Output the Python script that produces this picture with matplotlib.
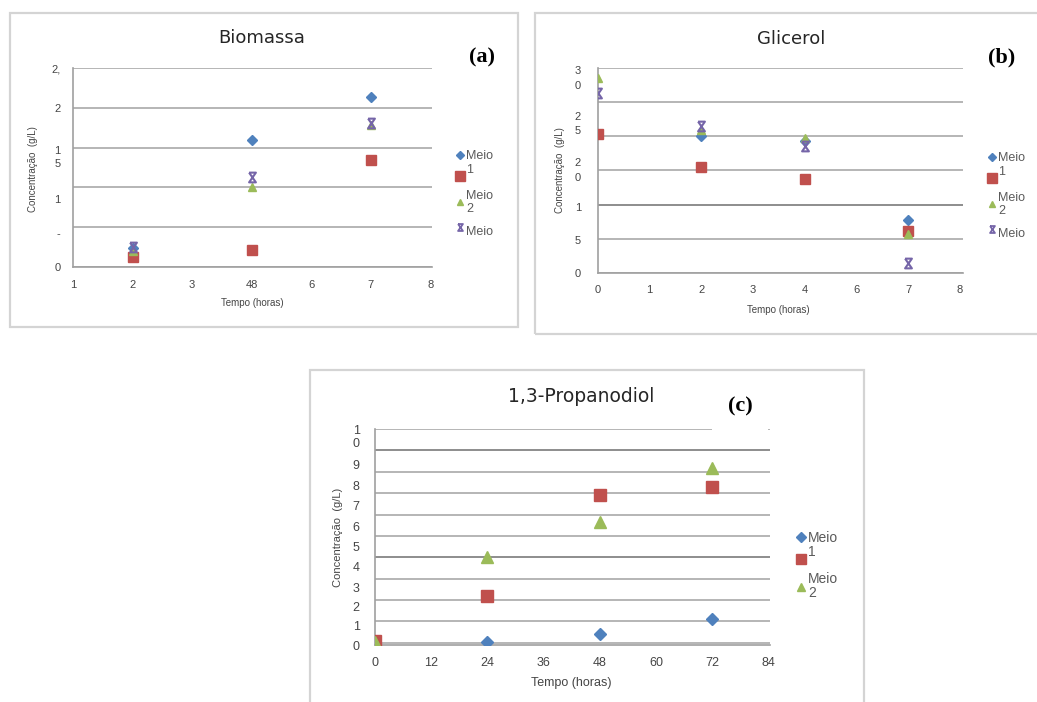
import matplotlib.pyplot as plt
from matplotlib.lines import Line2D
from matplotlib.patches import Rectangle
from matplotlib.path import Path

# (a) Biomassa - x positions index the (garbled) tick labels
bio_xlabels = ['1', '2', '3', '48', '6', '7', '8']
bio_x = [1, 3, 5]
bio_blue = [0.24, 1.60, 2.13]
bio_red = [0.13, 0.21, 1.34]
bio_green = [0.20, 1.01, 1.78]
bio_purple = [0.25, 1.13, 1.81]
bio_grid = [0, 0.5, 1, 1.5, 2, 2.5]
bio_ylab_pos = [0, 0.42, 0.85, 1.41, 2.0, 2.5]
bio_ylabels = ['0', '-', '1', '1\n5', '2', '2,']

# (b) Glicerol
gli_xlabels = ['0', '1', '2', '3', '4', '6', '7', '8']
gli_x = [0, 2, 4, 6]
gli_blue = [20.4, 20.1, 19.3, 7.8]
gli_red = [20.4, 15.5, 13.8, 6.1]
gli_green = [28.5, 21.0, 19.8, 5.7]
gli_purple = [26.3, 21.5, 18.6, 1.4]
gli_grid = [0, 5, 10, 15, 20, 25, 30]
gli_ylab_pos = [0, 4.9, 9.7, 15.5, 22.3, 29.0]
gli_ylabels = ['0', '5', '1', '2\n0', '2\n5', '3\n0']

# (c) 1,3-Propanodiol
pdo_x = [0, 24, 48, 72]
pdo_blue = [0.05, 0.05, 0.42, 1.13]
pdo_red = [0.08, 2.2, 6.9, 7.27]
pdo_green = [0.05, 4.0, 5.66, 8.18]
pdo_xticks = [0, 12, 24, 36, 48, 60, 72, 84]
pdo_grid = list(range(0, 11))
pdo_ylab_pos = [-0.1, 0.8, 1.7, 2.6, 3.55, 4.5, 5.45, 6.4, 7.35, 8.35, 9.7]
pdo_ylabels = ['0', '1', '2', '3', '4', '5', '6', '7', '8', '9', '1\n0']

legend_labels = ['Meio', '1\n', 'Meio\n2', '\nMeio']

BLUE, RED, GREEN, PURPLE = '#4f81bd', '#c0504d', '#9bbb59', '#7565a8'
GRID = '#a9a9a9'
TXT = '#454545'

W, H = 1037, 702
fig = plt.figure(figsize=(W / 100, H / 100), dpi=100)
plt.rcParams['font.family'] = 'Liberation Sans'

hourglass = Path([(-0.7, 1), (0.7, 1), (-0.7, -1), (0.7, -1), (-0.7, 1)],
                 [Path.MOVETO, Path.LINETO, Path.LINETO, Path.LINETO, Path.LINETO])


def px_rect(x0, y0, x1, y1):
    return [x0 / W, 1 - y1 / H, (x1 - x0) / W, (y1 - y0) / H]


def frame(x0, y0, x1, y1):
    fig.add_artist(Rectangle((x0 / W, 1 - y1 / H), (x1 - x0) / W, (y1 - y0) / H,
                             transform=fig.transFigure, fill=False,
                             edgecolor='#d4d4d4', linewidth=1.6))


def setup(ax, grid, lab_pos, labs, ypad, xpad, fs, lsp):
    ax.yaxis.remove_overlapping_locs = False
    ax.set_yticks(grid, labels=[''] * len(grid))
    ax.set_yticks(lab_pos, labels=labs, minor=True)
    ax.tick_params(which='both', length=0, colors=TXT, labelsize=fs)
    ax.tick_params(axis='y', which='minor', pad=ypad)
    ax.tick_params(axis='x', pad=xpad)
    for lbl in ax.get_yticklabels(minor=True):
        lbl.set_linespacing(lsp)
    ax.grid(axis='y', which='major', color=GRID, linewidth=1.2)
    ax.set_axisbelow(True)
    for s in ['top', 'right']:
        ax.spines[s].set_visible(False)
    for s in ['left', 'bottom']:
        ax.spines[s].set_color('#a0a0a0')
        ax.spines[s].set_linewidth(1.2)


def labels(ax, xl, yl, fs, yfs):
    ax.set_xlabel('Tempo (horas)', fontsize=fs, color=TXT, va='center')
    ax.xaxis.set_label_coords(*xl)
    ax.set_ylabel('Concentração  (g/L)', fontsize=yfs, color=TXT, va='center')
    ax.yaxis.set_label_coords(*yl)


def legend(ax, series, x, y, fs, spacing, lsp):
    handles = []
    for marker, color, ms in series:
        if marker is hourglass:
            handles.append(Line2D([], [], ls='none', marker=marker, markersize=ms,
                                  markerfacecolor='none', markeredgecolor=color,
                                  markeredgewidth=1.3))
        else:
            handles.append(Line2D([], [], ls='none', marker=marker, markersize=ms,
                                  color=color))
    leg = ax.legend(handles, legend_labels[:len(handles)], loc='upper left',
                    bbox_to_anchor=(x / W, 1 - y / H), bbox_transform=fig.transFigure,
                    frameon=False, fontsize=fs, handlelength=0.6, handletextpad=0.2,
                    labelspacing=spacing, borderpad=0, borderaxespad=0,
                    labelcolor='#5a5a5a')
    texts = leg.get_texts()
    for t in texts:
        t.set_linespacing(lsp)
    if len(texts) > 3:
        texts[3].set_linespacing(0.75)


def scatter(ax, x, ys, sizes):
    mk = ['D', 's', '^', hourglass]
    cols = [BLUE, RED, GREEN, PURPLE]
    for i, y in enumerate(ys):
        if mk[i] is hourglass:
            ax.plot(x, y, ls='none', marker=hourglass, markersize=sizes[i],
                    markerfacecolor='none', markeredgecolor=cols[i],
                    markeredgewidth=1.5, zorder=3)
        else:
            ax.plot(x, y, ls='none', marker=mk[i], markersize=sizes[i],
                    color=cols[i], zorder=3)


# frames of the three pasted charts
frame(10, 13, 518, 327)
frame(535, 13, 1045, 334)
frame(310, 370, 864, 712)

# ---- (a) Biomassa
ax1 = fig.add_axes(px_rect(73, 68, 432, 267))
scatter(ax1, bio_x, [bio_blue, bio_red, bio_green, bio_purple], [5.5, 7, 6, 7])
ax1.set_xlim(0, 6.03)
ax1.set_ylim(0, 2.5)
ax1.set_xticks(range(len(bio_xlabels)), labels=bio_xlabels)
setup(ax1, bio_grid, bio_ylab_pos, bio_ylabels, 9, 9, 8, 1.45)
labels(ax1, (0.5, -0.18), (-0.112, 0.49), 7, 7)
legend(ax1, [('D', BLUE, 4), ('s', RED, 7), ('^', GREEN, 5), (hourglass, PURPLE, 5)],
       456, 150, 9, 0.12, 1.1)
fig.text(262 / W, 1 - 38 / H, 'Biomassa', fontsize=13, color='#262626',
         family='DejaVu Sans', ha='center', va='center')
fig.text(482 / W, 1 - 57 / H, '(a)', fontsize=16, fontweight='bold',
         family='Liberation Serif', ha='center', va='center')

# ---- (b) Glicerol
ax2 = fig.add_axes(px_rect(597.7, 68, 963, 273))
scatter(ax2, gli_x, [gli_blue, gli_red, gli_green, gli_purple], [5.5, 7, 6, 7])
ax2.set_xlim(0, 7.06)
ax2.set_ylim(0, 30)
ax2.set_xticks(range(len(gli_xlabels)), labels=gli_xlabels)
setup(ax2, gli_grid, gli_ylab_pos, gli_ylabels, 12, 9, 8, 1.6)
ax2.get_ygridlines()[2].set_color('#7a7a7a')
labels(ax2, (0.494, -0.18), (-0.103, 0.5), 7, 7)
legend(ax2, [('D', BLUE, 4), ('s', RED, 7), ('^', GREEN, 5), (hourglass, PURPLE, 5)],
       988, 152, 9, 0.12, 1.1)
fig.text(791 / W, 1 - 39 / H, 'Glicerol', fontsize=13, color='#262626',
         family='DejaVu Sans', ha='center', va='center')
fig.text(1002 / W, 1 - 57 / H, '(b)', fontsize=16, fontweight='bold',
         family='Liberation Serif', ha='center', va='center')

# ---- (c) 1,3-Propanodiol
ax3 = fig.add_axes(px_rect(375, 429, 770, 645))
scatter(ax3, pdo_x, [pdo_blue, pdo_red, pdo_green], [6, 8, 8])
ax3.set_xlim(0, 84.3)
ax3.set_ylim(0, 10)
ax3.set_xticks(pdo_xticks)
setup(ax3, pdo_grid, pdo_ylab_pos, pdo_ylabels, 11, 9, 9, 1.15)
for i in (4, 9):
    ax3.get_ygridlines()[i].set_color('#7a7a7a')
labels(ax3, (0.498, -0.175), (-0.094, 0.5), 9, 8)
legend(ax3, [('D', BLUE, 5), ('s', RED, 7), ('^', GREEN, 6)], 797, 531, 10, 0.0, 0.95)
fig.text(581 / W, 1 - 397 / H, '1,3-Propanodiol', fontsize=13.5, color='#262626',
         family='DejaVu Sans', ha='center', va='center')
fig.text(740 / W, 1 - 406 / H, '(c)', fontsize=16, fontweight='bold',
         family='Liberation Serif', ha='center', va='center',
         bbox=dict(facecolor='white', edgecolor='none', pad=11))

fig.savefig('out.png', dpi=100, facecolor='white')
